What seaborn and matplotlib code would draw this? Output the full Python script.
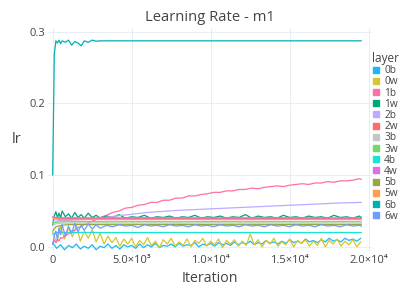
import numpy as np
import pandas as pd
import matplotlib
matplotlib.use("Agg")
import matplotlib.pyplot as plt
from matplotlib.lines import Line2D
import seaborn as sns

layers = ["0b", "0w", "1b", "1w", "2b", "2w", "3b", "3w", "4b", "4w", "5b", "5w", "6b", "6w"]
colors = ["#1cb8f2", "#d6c62f", "#ff6fa5", "#00a57b", "#bda9ff", "#ff6b6b", "#c6c6c6",
          "#6fd86f", "#14e6cf", "#e070e2", "#9aa646", "#ff9d50", "#00b0b0", "#6f9cff"]

x_ticks = [0, 5000, 10000, 15000, 20000]
x_tick_labels = ["0", "5.0×10³", "1.0×10⁴", "1.5×10⁴", "2.0×10⁴"]
y_ticks = [0.0, 0.1, 0.2, 0.3]
y_tick_labels = ["0.0", "0.1", "0.2", "0.3"]

# very noisy layers (0b, 0w): fine grid
iters_fine = [0, 250, 500, 750, 1000, 1250, 1500, 1750, 2000, 2250,
              2500, 2750, 3000, 3250, 3500, 3750, 4000, 4250, 4500, 4750,
              5000, 5250, 5500, 5750, 6000, 6250, 6500, 6750, 7000, 7250,
              7500, 7750, 8000, 8250, 8500, 8750, 9000, 9250, 9500, 9750,
              10000, 10250, 10500, 10750, 11000, 11250, 11500, 11750, 12000, 12250,
              12500, 12750, 13000, 13250, 13500, 13750, 14000, 14250, 14500, 14750,
              15000, 15250, 15500, 15750, 16000, 16250, 16500, 16750, 17000, 17250,
              17500, 17750, 18000, 18250, 18500, 18750, 19000, 19250, 19500]
# noisy layers: dense grid
iters_dense = [0, 100, 200, 300, 400, 500, 600, 800, 1000, 1200, 1400, 1600, 1800, 2000, 2250, 2500, 2750, 3000,
               3400, 3800, 4200, 4600, 5000, 5400, 5800, 6200, 6600, 7000,
               7400, 7800, 8200, 8600, 9000, 9400, 9800, 10200, 10600, 11000,
               11400, 11800, 12200, 12600, 13000, 13400, 13800, 14200, 14600, 15000,
               15400, 15800, 16200, 16600, 17000, 17400, 17800, 18200, 18600, 19000,
               19400, 19540]
# flat layers: sparse grid
iters_sparse = [0, 200, 500, 1000, 2000, 3000, 4000, 6000, 8000, 10000, 12000, 14000, 16000, 18000, 19540]

lr_0b = [0.006, -0.002, 0.003, -0.004, 0.002, -0.001, 0.004, -0.003, 0.001, -0.002,
         0.003, -0.004, 0.001, -0.001, 0.004, -0.002, 0.002, -0.003, 0.003, 0.000,
         0.002, -0.002, 0.004, -0.001, 0.003, 0.000, 0.005, -0.001, 0.002, 0.001,
         0.004, 0.000, 0.005, 0.001, 0.003, 0.002, 0.006, 0.000, 0.004, 0.002,
         0.005, 0.001, 0.006, 0.003, 0.005, 0.002, 0.007, 0.003, 0.006, 0.004,
         0.008, 0.003, 0.006, 0.004, 0.009, 0.005, 0.007, 0.004, 0.008, 0.005,
         0.010, 0.006, 0.008, 0.005, 0.011, 0.007, 0.009, 0.006, 0.010, 0.007,
         0.012, 0.008, 0.010, 0.007, 0.012, 0.009, 0.011, 0.008, 0.012]
lr_0w = [0.020, 0.006, 0.029, 0.011, 0.026, 0.014, 0.030, 0.008, 0.022, 0.012,
         0.024, 0.007, 0.019, 0.004, 0.015, 0.006, 0.013, 0.001, 0.011, 0.004,
         0.012, 0.000, 0.009, 0.003, 0.013, 0.002, 0.008, -0.001, 0.010, 0.004,
         0.012, 0.001, 0.007, 0.002, 0.011, 0.000, 0.009, 0.005, 0.012, 0.001,
         0.008, 0.003, 0.011, -0.001, 0.009, 0.004, 0.010, 0.001, 0.008, 0.002,
         0.018, 0.003, 0.010, 0.000, 0.009, 0.004, 0.012, 0.001, 0.007, 0.003,
         0.011, 0.000, 0.009, 0.005, 0.010, 0.001, 0.008, 0.002, 0.012, 0.000,
         0.009, 0.004, 0.011, 0.001, 0.008, 0.003, 0.010, 0.000, 0.007]
lr_1b = [0.004, 0.009, 0.006, 0.011, 0.008, 0.013, 0.012, 0.016, 0.018, 0.022, 0.023, 0.027, 0.028, 0.031, 0.033, 0.036, 0.038, 0.041,
         0.044, 0.048, 0.050, 0.054, 0.055, 0.058, 0.059, 0.062, 0.062, 0.065,
         0.065, 0.068, 0.068, 0.071, 0.071, 0.073, 0.074, 0.076, 0.076, 0.078,
         0.078, 0.080, 0.080, 0.082, 0.081, 0.083, 0.084, 0.085, 0.084, 0.086,
         0.087, 0.088, 0.087, 0.089, 0.089, 0.091, 0.090, 0.092, 0.092, 0.093,
         0.095, 0.094]
lr_1w = [0.030, 0.043, 0.049, 0.041, 0.047, 0.040, 0.050, 0.042, 0.046, 0.040, 0.048, 0.041, 0.045, 0.040, 0.047, 0.041, 0.044, 0.040,
         0.043, 0.041, 0.045, 0.040, 0.042, 0.041, 0.044, 0.040, 0.042, 0.041,
         0.043, 0.040, 0.042, 0.041, 0.044, 0.040, 0.042, 0.041, 0.043, 0.040,
         0.042, 0.041, 0.045, 0.040, 0.043, 0.041, 0.042, 0.040, 0.044, 0.041,
         0.042, 0.040, 0.043, 0.041, 0.042, 0.040, 0.044, 0.041, 0.042, 0.040,
         0.043, 0.041]
lr_6b = [0.100, 0.268, 0.287, 0.284, 0.288, 0.283, 0.287, 0.285, 0.288, 0.281, 0.286, 0.284, 0.280, 0.287, 0.285, 0.288, 0.2865, 0.287,
         0.287, 0.287, 0.287, 0.287, 0.287, 0.287, 0.287, 0.287, 0.287, 0.287,
         0.287, 0.287, 0.287, 0.287, 0.287, 0.287, 0.287, 0.287, 0.287, 0.287,
         0.287, 0.287, 0.287, 0.287, 0.287, 0.287, 0.287, 0.287, 0.287, 0.287,
         0.287, 0.287, 0.287, 0.287, 0.287, 0.287, 0.287, 0.287, 0.287, 0.287,
         0.287, 0.287]
lr_6w = [0.003, 0.015, 0.022, 0.010, 0.027, 0.017, 0.031, 0.015, 0.029, 0.019, 0.033, 0.021, 0.030, 0.023, 0.032, 0.025, 0.031, 0.026,
         0.030, 0.028, 0.031, 0.029, 0.030, 0.027, 0.031, 0.029, 0.030, 0.028,
         0.031, 0.029, 0.030, 0.028, 0.031, 0.029, 0.030, 0.028, 0.031, 0.029,
         0.030, 0.028, 0.031, 0.029, 0.030, 0.028, 0.031, 0.029, 0.030, 0.028,
         0.031, 0.029, 0.030, 0.028, 0.031, 0.029, 0.030, 0.028, 0.031, 0.029,
         0.030, 0.029]

lr_2b = [0.036, 0.036, 0.037, 0.037, 0.038, 0.040, 0.043, 0.048, 0.051, 0.053, 0.055, 0.057, 0.059, 0.061, 0.062]
lr_2w = [0.041, 0.040, 0.0395, 0.0396, 0.0395, 0.0394, 0.0395, 0.0396, 0.0395, 0.0394, 0.0395, 0.0396, 0.0395, 0.0394, 0.0395]
lr_3b = [0.030, 0.032, 0.033, 0.033, 0.0332, 0.0331, 0.033, 0.0331, 0.033, 0.0332, 0.033, 0.0331, 0.033, 0.0331, 0.033]
lr_3w = [0.033, 0.034, 0.035, 0.035, 0.0352, 0.0351, 0.035, 0.0351, 0.035, 0.0352, 0.035, 0.0351, 0.035, 0.0351, 0.035]
lr_4b = [0.018, 0.020, 0.020, 0.020, 0.0201, 0.020, 0.0199, 0.020, 0.0201, 0.020, 0.020, 0.0199, 0.020, 0.0201, 0.020]
lr_4w = [0.042, 0.041, 0.0405, 0.0406, 0.0405, 0.0404, 0.0405, 0.0406, 0.0405, 0.0404, 0.0405, 0.0406, 0.0405, 0.0404, 0.0405]
lr_5b = [0.022, 0.028, 0.030, 0.031, 0.0312, 0.031, 0.0309, 0.031, 0.0311, 0.031, 0.0309, 0.031, 0.0311, 0.031, 0.031]
lr_5w = [0.040, 0.039, 0.038, 0.038, 0.0381, 0.038, 0.0379, 0.038, 0.0381, 0.038, 0.0379, 0.038, 0.0381, 0.038, 0.038]

series = {
    "0b": (iters_fine, lr_0b), "0w": (iters_fine, lr_0w),
    "1b": (iters_dense, lr_1b), "1w": (iters_dense, lr_1w),
    "2b": (iters_sparse, lr_2b), "2w": (iters_sparse, lr_2w),
    "3b": (iters_sparse, lr_3b), "3w": (iters_sparse, lr_3w),
    "4b": (iters_sparse, lr_4b), "4w": (iters_sparse, lr_4w),
    "5b": (iters_sparse, lr_5b), "5w": (iters_sparse, lr_5w),
    "6b": (iters_dense, lr_6b), "6w": (iters_dense, lr_6w),
}
df = pd.concat([pd.DataFrame({"Iteration": it, "lr": v, "layer": name})
                for name, (it, v) in series.items()], ignore_index=True)

sns.set_theme(style="white")
plt.rcParams["font.family"] = ["Open Sans", "DejaVu Sans"]
text_col = "#444444"

fig = plt.figure(figsize=(4.07, 3.05), dpi=100)
ax = fig.add_axes([48 / 407, 53 / 305, 324 / 407, 224 / 305])

sns.lineplot(data=df, x="Iteration", y="lr", hue="layer", hue_order=layers,
             palette=dict(zip(layers, colors)), estimator=None, errorbar=None,
             linewidth=0.9, legend=False, ax=ax)

ax.set_xlim(-297, 20209)
ax.set_ylim(-0.0071, 0.3049)
ax.set_xticks(x_ticks, x_tick_labels)
ax.set_yticks(y_ticks, y_tick_labels)
ax.tick_params(length=0, labelsize=8, colors=text_col, pad=2)
ax.grid(True, color="#e9edf4", linewidth=0.8)
ax.set_axisbelow(True)
for s in ax.spines.values():
    s.set_visible(False)

ax.set_title("Learning Rate - m1", fontsize=10.6, color=text_col, pad=5)
ax.set_xlabel("Iteration", fontsize=10.2, color=text_col)
ax.xaxis.set_label_coords(0.5, -0.085)
ax.set_ylabel("lr", fontsize=10.5, color=text_col, rotation=0, ha="center", va="center")
ax.yaxis.set_label_coords(-0.096, 0.504)

handles = [Line2D([], [], marker="s", linestyle="none", color=c, markersize=4.3) for c in colors]
leg = fig.legend(handles, layers, title="layer", loc="upper left",
                 bbox_to_anchor=(372 / 407, 1 - 52 / 305), frameon=False,
                 fontsize=7.3, title_fontsize=8.5, handlelength=0.8, handletextpad=0.4,
                 labelspacing=0.02, borderaxespad=0, borderpad=0, alignment="left")
for t in leg.get_texts():
    t.set_color(text_col)
leg.get_title().set_color(text_col)

fig.savefig("out.png", dpi=100)
